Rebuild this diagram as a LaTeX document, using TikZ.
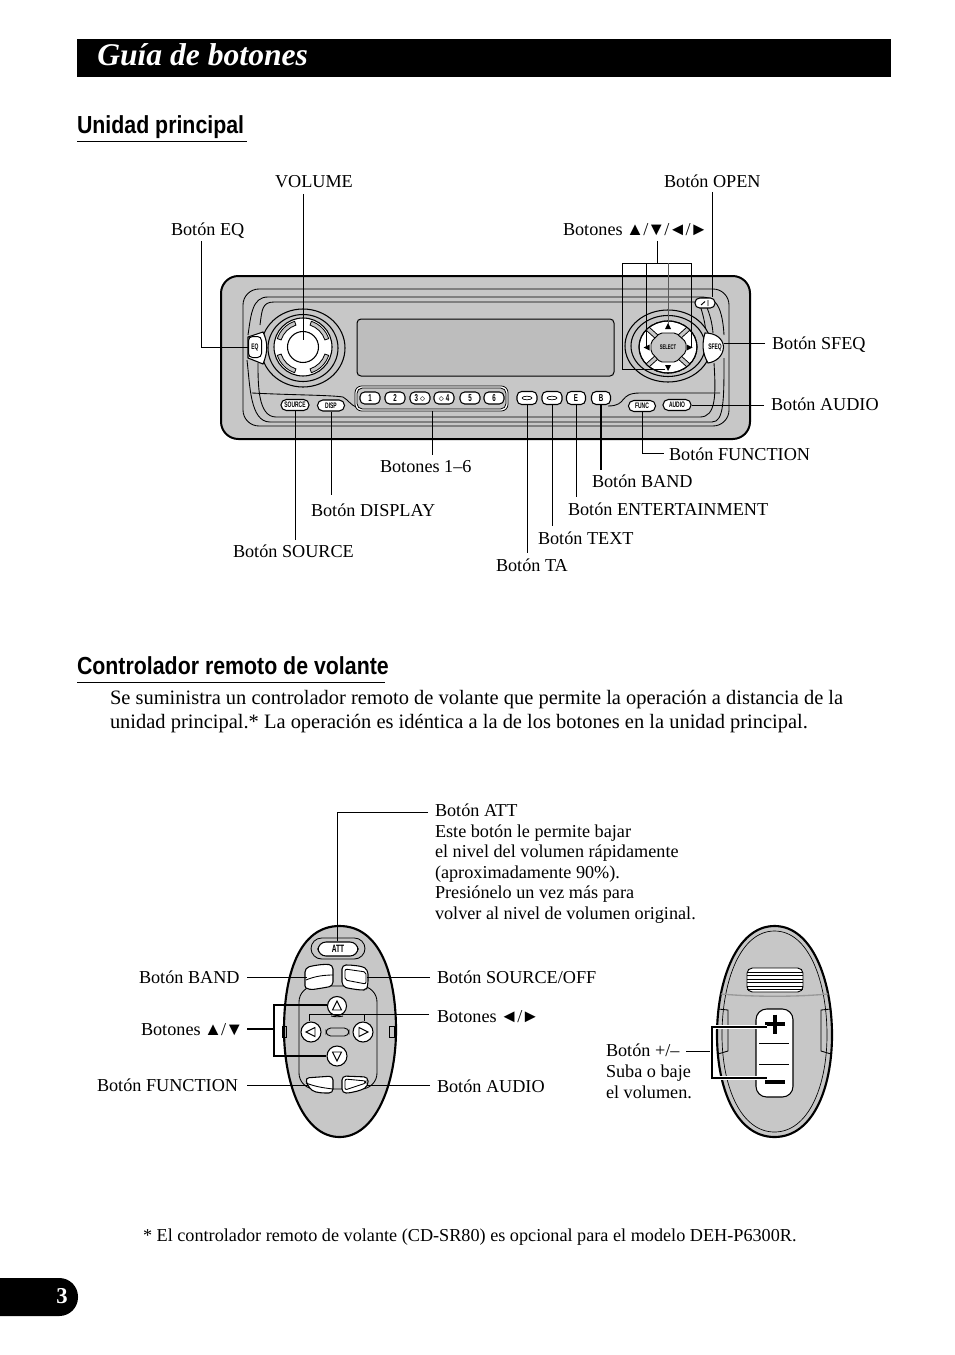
\documentclass[tikz,border=0pt]{standalone}
\usepackage{fontspec}
\setmainfont{Liberation Serif}
\newfontfamily\btnfont[FakeStretch=0.62]{Liberation Sans}
\newfontfamily\headfont[FakeStretch=0.865]{Liberation Sans}
\newcommand\pxx[1]{#1*0.75pt}
\newcommand\slk{\kern-0.7pt/\kern-0.7pt}
\definecolor{unitgray}{gray}{0.78}
\definecolor{dispgray}{gray}{0.74}
\definecolor{midgray}{gray}{0.6}
\tikzset{
 lbl/.style={anchor=base west,inner sep=0pt,outer sep=0pt,font=\fontsize{13.65}{16}\selectfont},
 bodytxt/.style={anchor=base west,inner sep=0pt,outer sep=0pt,font=\fontsize{15.35}{18}\selectfont},
 head/.style={anchor=base west,inner sep=0pt,outer sep=0pt,font=\headfont\bfseries\fontsize{18.5}{22}\selectfont},
 conn/.style={draw=black,line width=0.72pt},
 conntk/.style={draw=black,line width=1.5pt},
 halo/.style={draw=white,line width=2.6pt},
 contour/.style={draw=black,line width=0.65pt},
 unitbtn/.style={draw=black,fill=white,line width=0.8pt,rounded corners=3.5pt,inner sep=0pt,font=\btnfont\bfseries\fontsize{6}{7}\selectfont},
 numbtn/.style={unitbtn,minimum width=\pxx{20},minimum height=\pxx{12},font=\btnfont\bfseries\fontsize{7.5}{8}\selectfont},
 ring/.style={draw=black,line width=0.8pt},
 remote/.style={draw=black,line width=1.6pt,fill=unitgray},
 rembtn/.style={draw=black,fill=white,line width=0.8pt},
}
\begin{document}
\begin{tikzpicture}[x=0.75pt,y=-0.75pt]
\useasboundingbox (0,0) rectangle (954,1355);
% title
\fill[black] (77,39) rectangle (891,77);
\node[anchor=base west,inner sep=0pt,text=white,font=\bfseries\itshape\fontsize{23.7}{28}\selectfont] (title) at (97,66) {Guía de botones};
\node[head] (h1) at (77,134) {Unidad principal};
\draw[line width=0.75pt] (77,141.5) -- (247,141.5);
\node[head] (h2) at (77,674) {Controlador remoto de volante};
\draw[line width=0.75pt] (77,682) -- (385,682);
\node[bodytxt] (b1) at (110,704) {Se suministra un controlador remoto de volante que permite la operación a distancia de la};
\node[bodytxt] (b2) at (110,728) {unidad principal.* La operación es idéntica a la de los botones en la unidad principal.};
\node[lbl] (foot) at (143,1241) {* El controlador remoto de volante (CD-SR80) es opcional para el modelo DEH-P6300R.};
% page tab
\fill[black,rounded corners=14pt] (-30,1278) rectangle (78,1316);
\node[text=white,font=\bfseries\fontsize{17}{20}\selectfont,inner sep=0pt] (pg) at (62,1296) {3};

% ---- head unit
\draw[line width=1.5pt,fill=unitgray,rounded corners=13pt] (221,276) rectangle (750,439);
\draw[contour,rounded corners=12pt] (243,289) rectangle (729,426);
\draw[contour] (248,335) .. controls (251,315) and (252,297) .. (268,297) -- (700,297) .. controls (712,297) and (722,300) .. (724,335);
\draw[contour] (260,325) .. controls (262,310) and (262,302) .. (274,302) -- (695,302);
\draw[contour] (258,363) .. controls (258,385) and (258,417) .. (276,417) -- (700,417) .. controls (716,417) and (716,395) .. (714,363);
\draw[contour] (247,360) .. controls (250,385) and (250,422) .. (270,422);
\draw[contour] (270,422) -- (712,422) .. controls (724,422) and (724,400) .. (724,358);
\draw[contour] (252,393) .. controls (290,395) and (330,395) .. (343,397) .. controls (348,400) and (351,405) .. (356,407);
\draw[contour] (608,406) .. controls (628,406) and (618,393) .. (640,393) -- (720,393);
\draw[contour] (706,305) .. controls (710,315) and (712,322) .. (713,333);
\draw[contour] (700,305) .. controls (703,315) and (705,322) .. (706,333);
% display
\draw[line width=0.75pt,fill=dispgray,rounded corners=3pt] (357,319) rectangle (614,376);
% left knob
\draw[ring,fill=unitgray] (303,348) ellipse (42 and 39);
\draw[ring,fill=unitgray] (303,348) ellipse (35 and 33.5);
\draw[ring,fill=white] (303,347) circle (29);
\foreach \a in {45,135,225,315}{
 \draw[line width=0.6pt,fill=unitgray] ([shift={(\a-27:23)}]303,347) arc[start angle=\a-27,end angle=\a+27,radius=23] -- ([shift={(\a+27:27)}]303,347) arc[start angle=\a+27,end angle=\a-27,radius=27] -- cycle;
}
\draw[line width=0.8pt,fill=white] (303,347) circle (15.5);
% EQ
\draw[line width=0.8pt,fill=white] (248,337) -- (263,332) .. controls (268,342) and (268,352) .. (263,364) -- (248,358) -- cycle;
\node[draw=black,fill=white,line width=0.75pt,rounded corners=3pt,minimum width=\pxx{13},minimum height=\pxx{21},inner sep=0pt,font=\btnfont\bfseries\fontsize{6}{7}\selectfont] (btnEq) at (255,347) {EQ};
% right knob
\draw[ring,fill=unitgray] (668,346) ellipse (43 and 36);
\draw[ring,fill=unitgray] (668,346) ellipse (37 and 30.5);
\draw[ring,fill=white] (668,347) ellipse (29 and 26);
\begin{scope}
\clip (668,347) ellipse (29 and 26);
\foreach \a in {42,138,222,318}{
 \draw[line width=3.8pt,draw=black] (668,347) -- ++(\a:34);
 \draw[line width=2.4pt,draw=unitgray] (668,347) -- ++(\a:34);
}
\end{scope}
\draw[line width=0.8pt] (668,347) ellipse (29 and 26);
\draw[line width=0.7pt,fill=unitgray,rounded corners=1.5pt] (660,333) -- (676,333) -- (686,342) -- (686,352) -- (676,362) -- (660,362) -- (651,352) -- (651,342) -- cycle;
\node[inner sep=0pt,font=\btnfont\bfseries\fontsize{5}{6}\selectfont] (btnSel) at (668,347) {SELECT};
\fill[black] (668,323) -- (665,329) -- (671,329) -- cycle;
\fill[black] (668,371) -- (665,365) -- (671,365) -- cycle;
\fill[black] (643.5,347.5) -- (649.5,344.5) -- (649.5,350.5) -- cycle;
\fill[black] (692.5,347.5) -- (686.5,344.5) -- (686.5,350.5) -- cycle;
% preset group
\draw[line width=0.6pt,fill=white,rounded corners=5pt] (355,386) rectangle (508,411);
\draw[line width=0.6pt,fill=unitgray,rounded corners=4pt] (357,388) rectangle (506,409);
\node[numbtn] (p1) at (370,398) {1};
\node[numbtn] (p2) at (395,398) {2};
\node[numbtn] (p3) at (420,398) {3 $\diamond$};
\node[numbtn] (p4) at (444,398) {$\diamond$ 4};
\node[numbtn] (p5) at (470,398) {5};
\node[numbtn] (p6) at (494,398) {6};
\coordinate (presetBot) at (432,411);
% small buttons
\node[unitbtn,minimum width=\pxx{28},minimum height=\pxx{11},rounded corners=4pt,rotate=0] (btnSource) at (295,405) {SOURCE};
\node[unitbtn,minimum width=\pxx{27},minimum height=\pxx{11},rounded corners=4pt] (btnDisp) at (331,405.5) {DISP};
\node[unitbtn,minimum width=\pxx{20},minimum height=\pxx{13}] (btnTa) at (527,398) {};
\draw[line width=0.5pt] (527,398) ellipse (5 and 1.8);
\node[unitbtn,minimum width=\pxx{20},minimum height=\pxx{13}] (btnText) at (552,398) {};
\draw[line width=0.5pt] (552,398) ellipse (5 and 1.8);
\node[unitbtn,minimum width=\pxx{19},minimum height=\pxx{13},font=\btnfont\bfseries\fontsize{7.5}{8}\selectfont] (btnE) at (576,398) {E};
\node[unitbtn,minimum width=\pxx{19},minimum height=\pxx{13},font=\btnfont\bfseries\fontsize{7.5}{8}\selectfont] (btnB) at (601,398) {B};
\node[unitbtn,minimum width=\pxx{27},minimum height=\pxx{11},rounded corners=4pt] (btnFunc) at (642,406) {FUNC};
\node[unitbtn,minimum width=\pxx{28},minimum height=\pxx{11},rounded corners=4pt] (btnAudio) at (677,405) {AUDIO};
\node[unitbtn,minimum width=\pxx{20},minimum height=\pxx{10}] (btnOpen) at (705,303) {};
\draw[line width=0.7pt] (701,305) -- (705,301.5) (708,300) -- (708,306);
% SFEQ
\draw[line width=0.8pt,fill=white] (705,333) .. controls (715,333) and (723,338) .. (723.5,347) .. controls (723,357) and (715,362) .. (708,363) .. controls (702,353) and (702,343) .. (705,333) -- cycle;
\node[inner sep=0pt,font=\btnfont\bfseries\fontsize{6}{7}\selectfont] (btnSfeq) at (715,347) {SFEQ};

% ---- head unit labels
\node[lbl] (lVol) at (275,188) {VOLUME};
\node[lbl] (lOpen) at (664,188) {Botón OPEN};
\node[lbl] (lEq) at (171,235) {Botón EQ};
\node[lbl] (lArr) at (563,236) {Botones\kern-0.8pt{} ▲\slk▼\slk◄\slk►};
\node[lbl] (lSfeq) at (772,349) {Botón SFEQ};
\node[lbl] (lAudio) at (771,410) {Botón AUDIO};
\node[lbl] (lFunc) at (669,460) {Botón FUNCTION};
\node[lbl] (lBand) at (592,487) {Botón BAND};
\node[lbl] (lEnt) at (568,515) {Botón ENTERTAINMENT};
\node[lbl] (lText) at (538,544) {Botón TEXT};
\node[lbl] (lTa) at (496,571) {Botón TA};
\node[lbl] (l16) at (380,472) {Botones 1–6};
\node[lbl] (lDisp) at (311,516) {Botón DISPLAY};
\node[lbl] (lSrc) at (233,557) {Botón SOURCE};
% ---- head unit connectors
\coordinate (cVolT) at (303,194); \coordinate (cVolB) at (303,340);
\draw[conn] (cVolT) -- (cVolB);
\coordinate (cEqT) at (201,241); \coordinate (cEqC) at (201,347);
\draw[conn] (cEqT) -- (cEqC) -- (btnEq.west);
\coordinate (cArrT) at (657,241); \coordinate (cArrJ) at (657,263);
\coordinate (cArrL) at (622,263); \coordinate (cArrR) at (691,263); \coordinate (cArrLB) at (622,369); \coordinate (cArrD) at (665,369);
\coordinate (cArrA) at (646,263); \coordinate (cArrAB) at (646,347); \coordinate (cArrU) at (668,263); \coordinate (cArrUB) at (668,324); \coordinate (cArrRB) at (691,347);
\draw[conn] (cArrT) -- (cArrJ);
\draw[conn] (cArrD) -- (cArrLB) -- (cArrL) -- (cArrR) -- (cArrRB);
\draw[conn] (cArrA) -- (cArrAB);
\draw[conn,draw=black!65] (cArrU) -- (cArrUB);
\coordinate (cOpenT) at (712,192);
\draw[conn] (cOpenT) -- (btnOpen.north -| cOpenT);
\coordinate (cSfeqR) at (765,343); \coordinate (cSfeqL) at (723.5,343);
\draw[conn] (cSfeqR) -- (cSfeqL);
\coordinate (cAudR) at (764,405);
\draw[conn] (cAudR) -- (btnAudio.east);
\coordinate (cFuncJ) at (642,453); \coordinate (cFuncR) at (664,453);
\draw[conn] (btnFunc.south) -- (cFuncJ) -- (cFuncR);
\coordinate (cBandB) at (601,470);
\draw[conntk] (btnB.south) -- (cBandB);
\coordinate (cEntB) at (576,497);
\draw[conn] (btnE.south) -- (cEntB);
\coordinate (cTextB) at (552,526);
\draw[conn] (btnText.south) -- (cTextB);
\coordinate (cTaB) at (527,553);
\draw[conn] (btnTa.south) -- (cTaB);
\coordinate (c16B) at (432,455);
\draw[conn] (presetBot) -- (c16B);
\coordinate (cDispB) at (331,495);
\draw[conn] (btnDisp.south) -- (cDispB);
\coordinate (cSrcB) at (295,540);
\draw[conn] (btnSource.south) -- (cSrcB);

% ---- steering remote, front
\draw[remote] (339.5,926) .. controls (380,926) and (396,975) .. (396,1030) .. controls (396,1085) and (375,1137) .. (339.5,1137) .. controls (304,1137) and (284,1085) .. (284,1030) .. controls (284,975) and (299,926) .. (339.5,926) -- cycle;
\draw[contour,rounded corners=12pt] (299,986) rectangle (377,1089);
\draw[contour] (282,1026) rectangle (286,1037);
\draw[contour] (389,1026) rectangle (394,1037);
\draw[contour,rounded corners=8pt] (311,938) rectangle (365,959);
\node[draw=black,fill=white,line width=0.8pt,rounded corners=6pt,minimum width=\pxx{40},minimum height=\pxx{14},inner sep=0pt,font=\btnfont\bfseries\fontsize{8}{9}\selectfont] (btnAtt) at (338,949) {ATT};
\draw[rembtn,rounded corners=3pt] (305,968) .. controls (315,965) and (325,964) .. (333,965) -- (333,986) .. controls (323,988) and (316,989) .. (309,990) .. controls (306,988) and (305,985) .. (305,982) -- cycle;
\draw[contour] (306,980) .. controls (315,976) and (325,975) .. (333,975);
\coordinate (remBandR) at (307,977);
\draw[rembtn,rounded corners=3pt] (342,965) .. controls (352,965) and (362,966) .. (368,970) -- (368,985) .. controls (367,988) and (363,990) .. (360,990) .. controls (353,989) and (347,988) .. (342,986) -- cycle;
\draw[contour,rounded corners=1.5pt] (345,969) -- (366,972) -- (366,984) -- (345,980) -- cycle;
\coordinate (remSrcL) at (367,977);
\draw[rembtn,rounded corners=3pt] (305,1078) -- (333,1076) -- (333,1093) .. controls (323,1093) and (316,1093) .. (309,1088) -- cycle;
\draw[contour] (306,1083) .. controls (316,1087) and (325,1088) .. (333,1089);
\coordinate (remFuncR) at (308,1085);
\draw[rembtn,rounded corners=3pt] (342,1076) -- (368,1077) -- (368,1086) .. controls (362,1090) and (352,1093) .. (342,1093) -- cycle;
\draw[contour,rounded corners=1.5pt] (345,1079) -- (366,1081) -- (366,1083) -- (345,1090) -- cycle;
\coordinate (remAudL) at (367,1085);
\node[circle,rembtn,minimum size=\pxx{19},inner sep=0pt] (btnUp) at (337,1006) {};
\node[circle,rembtn,minimum size=\pxx{20},inner sep=0pt] (btnDn) at (337,1056) {};
\node[circle,rembtn,minimum size=\pxx{20},inner sep=0pt] (btnLf) at (311,1032) {};
\node[circle,rembtn,minimum size=\pxx{20},inner sep=0pt] (btnRt) at (363,1032) {};
\draw[line width=0.7pt] (337,1001) -- (332.5,1010) -- (341.5,1010) -- cycle;
\draw[line width=0.7pt] (337,1061) -- (332.5,1052) -- (341.5,1052) -- cycle;
\draw[line width=0.7pt] (306,1032) -- (315,1027.5) -- (315,1036.5) -- cycle;
\draw[line width=0.7pt] (368,1032) -- (359,1027.5) -- (359,1036.5) -- cycle;
\draw[contour,fill=unitgray,rounded corners=3.5pt] (326,1028) rectangle (349,1036);
\draw[contour] (331,1016) .. controls (335,1017) and (339,1017) .. (343,1016);
% labels
\node[lbl,align=left,anchor=north west,font=\fontsize{13.65}{15.4}\selectfont] (lAtt) at (435,804.2) {Botón ATT\\Este botón le permite bajar\\el nivel del volumen rápidamente\\(aproximadamente 90\%).\\Presiónelo un vez más para\\volver al nivel de volumen original.};
\node[lbl] (lrBand) at (139,983) {Botón BAND};
\node[lbl] (lrArr) at (141,1035) {Botones\kern-0.8pt{} ▲\slk▼};
\node[lbl] (lrFunc) at (97,1091) {Botón FUNCTION};
\node[lbl] (lrSrc) at (437,983) {Botón SOURCE/OFF};
\node[lbl] (lrLr) at (437,1022) {Botones\kern-0.8pt{} ◄\slk►};
\node[lbl] (lrAud) at (437,1092) {Botón AUDIO};
\node[lbl] (lrVol1) at (606,1056) {Botón +/–};
\node[lbl] (lrVol2) at (606,1077) {Suba o baje};
\node[lbl] (lrVol3) at (606,1098) {el volumen.};
% connectors
\coordinate (cAttT) at (337,812); \coordinate (cAttR) at (428,812);
\draw[conn] (cAttR) -- (cAttT) -- (btnAtt.north -| cAttT);
\coordinate (cBandL) at (247,977);
\draw[conn] (cBandL) -- (remBandR);
\coordinate (cSrcR) at (430,977);
\draw[conn] (cSrcR) -- (remSrcL);
\coordinate (cUdL) at (247,1029); \coordinate (cUdM) at (273.5,1029); \coordinate (cUdT) at (273.5,1005); \coordinate (cUdD) at (273.5,1056);
\draw[conntk] (cUdL) -- (cUdM);
\draw[conntk] (btnUp.west |- cUdT) -- (cUdT) -- (cUdD) -- (btnDn.west |- cUdD);
\coordinate (cLrR) at (429,1014); \coordinate (cLrL) at (309,1014); \coordinate (cLrM) at (364,1014);
\draw[conn] (cLrR) -- (cLrL) -- (btnLf.north -| cLrL);
\draw[conn] (cLrM) -- (btnRt.north -| cLrM);
\coordinate (cFuncL) at (247,1085);
\draw[conn] (cFuncL) -- (remFuncR);
\coordinate (cAudRr) at (430,1085);
\draw[conn] (cAudRr) -- (remAudL);

% ---- steering remote, back
\draw[remote] (774.5,926) .. controls (812,926) and (832,980) .. (832,1035) .. controls (832,1090) and (812,1137) .. (774.5,1137) .. controls (737,1137) and (717,1090) .. (717,1035) .. controls (717,980) and (737,926) .. (774.5,926) -- cycle;
\draw[line width=0.5pt] (774.5,931) .. controls (809,931) and (827,982) .. (827,1035) .. controls (827,1087) and (808,1132) .. (774.5,1132) .. controls (741,1132) and (722,1087) .. (722,1035) .. controls (722,982) and (740,931) .. (774.5,931) -- cycle;
\draw[line width=1pt,draw=midgray] (721,994) .. controls (755,997) and (795,997) .. (828,994);
\draw[line width=0.7pt,rounded corners=4pt,fill=white] (747,968) rectangle (803,992);
\foreach \yy in {972,975.5,979,982.5,986,989}{\draw[line width=0.6pt] (747,\yy) -- (803,\yy);}
\draw[contour] (718,1009) -- (728,1010) -- (728,1051) -- (718,1054);
\draw[contour] (831,1009) -- (821,1010) -- (821,1051) -- (831,1054);
\draw[line width=0.8pt,fill=white,rounded corners=8pt] (756,1009) rectangle (793,1097);
\draw[line width=0.7pt] (759,1043) -- (789,1043) (759,1064) -- (789,1064);
\coordinate (plusC) at (775,1024); \coordinate (minusC) at (775,1082);
\draw[line width=2.4pt] (765,1024) -- (785,1024);
\draw[line width=2.4pt] (775,1014.5) -- (775,1033.5);
\draw[line width=2.4pt] (765,1082) -- (785,1082);
% bracket
\coordinate (cVolL) at (686,1051); \coordinate (cVolM) at (711.5,1051); \coordinate (cVolT2) at (711.5,1027); \coordinate (cVolB2) at (711.5,1078); \coordinate (cVolPR) at (767,1027); \coordinate (cVolMR) at (767,1078);
\draw[conn] (cVolL) -- (cVolM);
\draw[halo] (cVolPR) -- (cVolT2) -- (cVolB2) -- (cVolMR);
\draw[conntk] (cVolPR) -- (cVolT2) -- (cVolB2) -- (cVolMR);
\end{tikzpicture}
\end{document}
